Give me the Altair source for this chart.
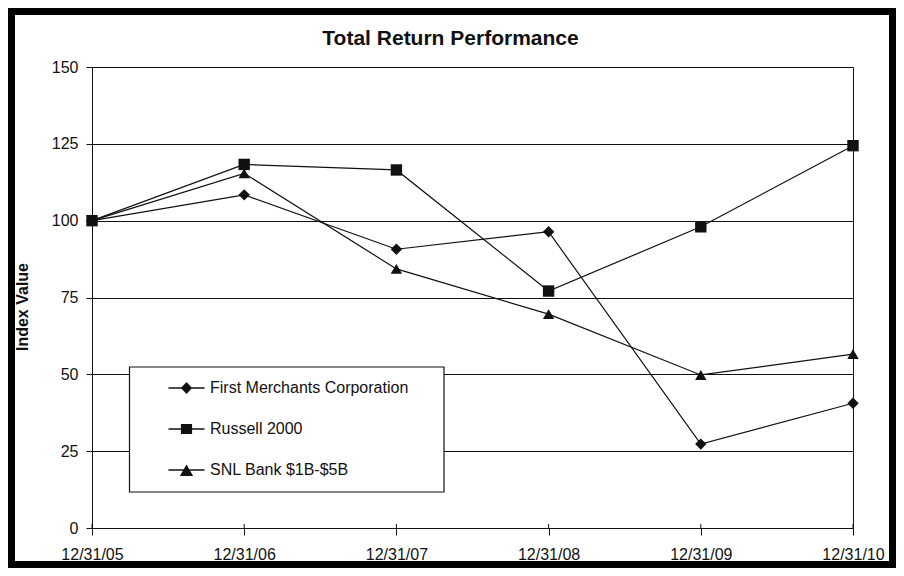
import altair as alt
import pandas as pd

# ------------------------------------------------------------------ styling
INK = "#111111"
FONT = "Liberation Sans"

# -------------------------------------------------------------------- data
dates = ["12/31/05", "12/31/06", "12/31/07", "12/31/08", "12/31/09", "12/31/10"]
series_names = ["First Merchants Corporation", "Russell 2000", "SNL Bank $1B-$5B"]
first_merchants = [100.0, 108.4, 90.7, 96.4, 27.3, 40.6]
russell_2000 = [100.0, 118.3, 116.5, 77.1, 98.0, 124.4]
snl_bank = [100.0, 115.4, 84.3, 69.6, 49.8, 56.6]
y_ticks = [0, 25, 50, 75, 100, 125, 150]

rows = []
for name, values in zip(series_names, [first_merchants, russell_2000, snl_bank]):
    for d, v in zip(dates, values):
        rows.append({"date": d, "series": name, "value": v})
df = pd.DataFrame(rows)

# plot area and fixed padding (chart is 888x560 inside the 8px page margin)
W, H = 761, 461
PAD = {"left": 84, "top": 59, "right": 43, "bottom": 40}

# legend glyphs: a short line with the marker on it (custom paths, unit = half box)
BAR = "M-1,-0.035L1,-0.035L1,0.035L-1,0.035Z"
GLYPHS = [
    BAR + "M0,-0.34L0.31,0L0,0.34L-0.31,0Z",
    BAR + "M-0.31,-0.28L0.31,-0.28L0.31,0.28L-0.31,0.28Z",
    BAR + "M0,-0.3L0.37,0.34L-0.37,0.34Z",
]
LEGEND_SIZE = 36 * 36

legend = alt.Legend(
    title=None, orient="none", legendX=76.5, legendY=303,
    padding=0, rowPadding=15, symbolSize=LEGEND_SIZE, labelOffset=5.5, labelLimit=320,
    symbolFillColor=INK, symbolStrokeWidth=0, symbolOpacity=1,
    labelFont=FONT, labelFontSize=16, labelColor=INK,
)

x_enc = alt.X("date:N", sort=dates, scale=alt.Scale(type="point", padding=0, domain=dates),
              axis=alt.Axis(title=None, labelAngle=0, tickSize=7, labelPadding=11,
                            domainColor=INK, tickColor=INK, labelColor=INK,
                            labelFont=FONT, labelFontSize=16, grid=False))
y_enc = alt.Y("value:Q", scale=alt.Scale(domain=[0, 150], nice=False),
              axis=alt.Axis(title="Index Value", values=y_ticks, tickSize=6, labelPadding=8,
                            domainColor=INK, tickColor=INK, labelColor=INK,
                            labelFont=FONT, labelFontSize=16,
                            grid=True, gridColor=INK, gridOpacity=1, gridWidth=1,
                            titleFont=FONT, titleFontSize=16, titleFontWeight="bold",
                            titleColor=INK, titleAngle=270, titleAlign="center",
                            titleBaseline="alphabetic", titleX=-65, titleY=239.5))

one = pd.DataFrame({"k": [0]})

# heavy outer frame (decoration)
frame = alt.Chart(one).mark_rect(fillOpacity=0, stroke="black", strokeWidth=7).encode(
    x=alt.value(-80.5), x2=alt.value(800.5), y=alt.value(-55.5), y2=alt.value(497.5))

# white legend box covering the gridlines
legend_box = alt.Chart(one).mark_rect(fill="white", stroke=INK, strokeWidth=1.2).encode(
    x=alt.value(37.5), x2=alt.value(352), y=alt.value(300), y2=alt.value(425))

base = alt.Chart(df)
lines = base.mark_line(color=INK, strokeWidth=1.2).encode(
    x=x_enc, y=y_enc, detail="series:N")
points = base.mark_point(filled=True, color=INK, opacity=1, size=130).encode(
    x=x_enc, y=y_enc,
    shape=alt.Shape("series:N", scale=alt.Scale(domain=series_names,
                                                range=["diamond", "square", "triangle-up"]),
                    legend=None))

# invisible layer that only drives the legend (line + marker glyphs)
legend_driver = base.mark_point(filled=True, color=INK, opacity=0).encode(
    x=x_enc, y=y_enc,
    shape=alt.Shape("series:N", scale=alt.Scale(domain=series_names, range=GLYPHS),
                    legend=legend))

# x ticks also cross into the plot a little
inner_ticks = alt.Chart(pd.DataFrame({"date": dates})).mark_rule(color=INK).encode(
    x=alt.X("date:N", sort=dates), y=alt.value(H - 4), y2=alt.value(H))

# the frame layer reaches 59px above the plot, so the title offset is negative
chart = alt.layer(frame, legend_box, lines, points, legend_driver, inner_ticks).resolve_scale(
    shape="independent"
).properties(
    width=W, height=H, padding=PAD, background="white",
    autosize=alt.AutoSizeParams(type="none"),
    title=alt.TitleParams("Total Return Performance", font=FONT, fontSize=21,
                          fontWeight="bold", color=INK, offset=-41, dx=-22,
                          anchor="middle"),
).configure_view(stroke=INK, strokeWidth=1)

chart.save("out.html", embed_options={"renderer": "svg", "actions": False})
